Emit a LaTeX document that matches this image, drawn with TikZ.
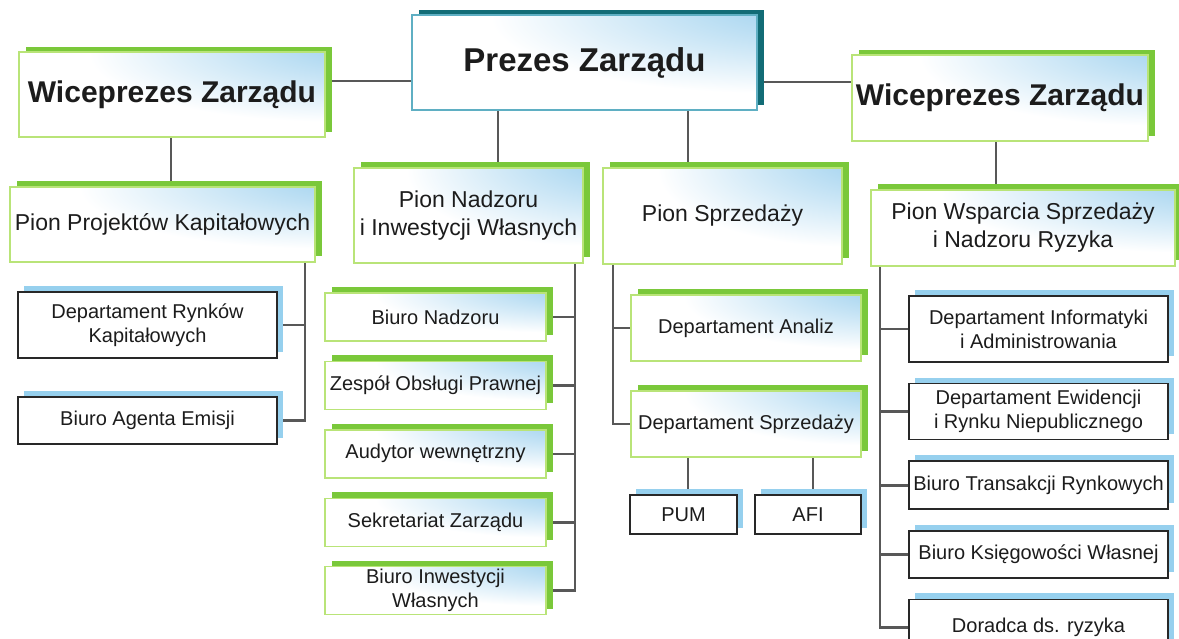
\documentclass[tikz,border=0pt]{standalone}
\usepackage{fontspec}
\setmainfont{Liberation Sans}
\usetikzlibrary{positioning,shadows,backgrounds}
\definecolor{limeshadow}{RGB}{122,200,58}
\definecolor{limeline}{RGB}{185,228,120}
\definecolor{tealshadow}{RGB}{18,108,118}
\definecolor{tealline}{RGB}{95,175,195}
\definecolor{skytint}{RGB}{140,200,235}
\definecolor{skyshadow}{RGB}{150,208,238}
\definecolor{linkgray}{RGB}{88,88,88}
\definecolor{inkdark}{RGB}{40,40,40}
\definecolor{textdark}{RGB}{28,28,28}
\pgfdeclareradialshading{cornertint}{\pgfpoint{44bp}{40bp}}{%
    color(0bp)=(skytint); color(10bp)=(skytint!85!white);
    color(40bp)=(white); color(100bp)=(white)}
\tikzset{
    tinted/.style={
        shading=cornertint,
        align=center,
        inner sep=1pt,
        text=textdark
    },
    topbox/.style={
        tinted,
        draw=tealline,
        line width=1.4pt,
        font=\fontsize{33}{38}\selectfont\bfseries,
        drop shadow={shadow xshift=7pt, shadow yshift=5pt, fill=tealshadow, opacity=1}
    },
    headbox/.style={
        tinted,
        draw=limeline,
        line width=1.4pt,
        font=\fontsize{30}{34}\selectfont\bfseries,
        drop shadow={shadow xshift=7pt, shadow yshift=5pt, fill=limeshadow, opacity=1}
    },
    pionbox/.style={
        tinted,
        draw=limeline,
        line width=1.4pt,
        font=\fontsize{23}{28}\selectfont,
        drop shadow={shadow xshift=7pt, shadow yshift=6pt, fill=limeshadow, opacity=1}
    },
    greenunit/.style={
        tinted,
        draw=limeline,
        line width=1.4pt,
        font=\fontsize{20}{24}\selectfont,
        drop shadow={shadow xshift=7pt, shadow yshift=6pt, fill=limeshadow, opacity=1}
    },
    plainunit/.style={
        draw=inkdark,
        line width=1.6pt,
        fill=white,
        align=center,
        inner sep=1pt,
        text=textdark,
        font=\fontsize{20}{24}\selectfont,
        drop shadow={shadow xshift=6pt, shadow yshift=6pt, fill=skyshadow, opacity=1}
    },
    nadbox/.style={greenunit, minimum width=221pt, minimum height=48pt},
    wspbox/.style={plainunit, minimum width=259pt},
    link/.style={draw=linkgray, line width=2.6pt}
}

\begin{document}
\begin{tikzpicture}[x=1pt, y=-1pt, node distance=19pt]
    \useasboundingbox (0,0) rectangle (1179,638);
    \clip (0,0) rectangle (1179,638);

    % management
    \node[topbox, minimum width=345pt, minimum height=95pt] (prezes) at (584.5,62.5) {Prezes Zarządu};
    \node[headbox, minimum width=306pt, minimum height=85pt] (vleft) at (172,94.5) {Wiceprezes Zarządu};
    \node[headbox, minimum width=296pt, minimum height=86pt] (vright) at (1000,98) {Wiceprezes Zarządu};

    % divisions
    \node[pionbox, minimum width=305pt, minimum height=75pt] (pkap) at (162.5,224.5) {Pion Projektów Kapitałowych};
    \node[pionbox, minimum width=229pt, minimum height=95pt] (pnad) at (468.5,215.5) {Pion Nadzoru\\i Inwestycji Własnych};
    \node[pionbox, minimum width=239pt, minimum height=96pt] (psprz) at (722.5,216) {Pion Sprzedaży};
    \node[pionbox, minimum width=304pt, minimum height=76pt] (pwsp) at (1023,228) {Pion Wsparcia Sprzedaży\\i Nadzoru Ryzyka};

    % capital projects
    \node[plainunit, minimum width=259pt, minimum height=66pt] (dryn) at (147.5,325) {Departament Rynków\\Kapitałowych};
    \node[plainunit, minimum width=259pt, minimum height=47pt] (bagent) at (147.5,420.5) {Biuro Agenta Emisji};

    % supervision
    \node[nadbox] (bnad) at (435.5,317) {Biuro Nadzoru};
    \node[nadbox, below=of bnad] (zesp) {Zespół Obsługi Prawnej};
    \node[nadbox, below=of zesp] (audyt) {Audytor wewnętrzny};
    \node[nadbox, below=of audyt] (sekr) {Sekretariat Zarządu};
    \node[nadbox, below=of sekr] (binw) {Biuro Inwestycji\\Własnych};

    % sales
    \node[greenunit, minimum width=230pt, minimum height=66pt] (dan) at (746,328) {Departament Analiz};
    \node[greenunit, minimum width=230pt, minimum height=66pt] (dsp) at (746,424) {Departament Sprzedaży};
    \node[plainunit, minimum width=107pt, minimum height=39pt] (pum) at (683.5,514.5) {PUM};
    \node[plainunit, minimum width=106pt, minimum height=39pt] (afi) at (808,514.5) {AFI};

    % sales support
    \node[wspbox, minimum height=66pt] (dinf) at (1038.5,329) {Departament Informatyki\\i Administrowania};
    \node[wspbox, minimum height=56pt, below=20pt of dinf] (dew) {Departament Ewidencji\\i Rynku Niepublicznego};
    \node[wspbox, minimum height=48pt, below=20pt of dew] (btr) {Biuro Transakcji Rynkowych};
    \node[wspbox, minimum height=47pt, below=20pt of btr] (bks) {Biuro Księgowości Własnej};
    \node[wspbox, minimum height=56pt, below=20pt of bks] (dor) {Doradca ds. ryzyka};

    \begin{scope}[on background layer]
        \draw[link] (prezes.west |- 0,81) -- (vleft.east |- 0,81);
        \draw[link] (prezes.east |- 0,82) -- (vright.west |- 0,82);
        \draw[link] (vleft.south -| 171,0) -- (pkap.north -| 171,0);
        \draw[link] (prezes.south -| 498,0) -- (pnad.north -| 498,0);
        \draw[link] (prezes.south -| 688,0) -- (psprz.north -| 688,0);
        \draw[link] (vright.south -| 996,0) -- (pwsp.north -| 996,0);

        \draw[link] (pkap.south -| 305,0) |- (dryn.east);
        \draw[link] (pkap.south -| 305,0) |- (bagent.east);

        \draw[link] (pnad.south -| 575,0) |- (bnad.east);
        \draw[link] (pnad.south -| 575,0) |- (zesp.east);
        \draw[link] (pnad.south -| 575,0) |- (audyt.east);
        \draw[link] (pnad.south -| 575,0) |- (sekr.east);
        \draw[link] (pnad.south -| 575,0) |- (binw.east);

        \draw[link] (psprz.south -| 613,0) |- (dan.west);
        \draw[link] (psprz.south -| 613,0) |- (dsp.west);
        \draw[link] (pum.north -| 688,0) -- (dsp.south -| 688,0);
        \draw[link] (afi.north -| 813,0) -- (dsp.south -| 813,0);

        \draw[link] (pwsp.south -| 880,0) |- (dinf.west);
        \draw[link] (pwsp.south -| 880,0) |- (dew.west);
        \draw[link] (pwsp.south -| 880,0) |- (btr.west);
        \draw[link] (pwsp.south -| 880,0) |- (bks.west);
        \draw[link] (pwsp.south -| 880,0) |- (dor.west);
    \end{scope}
\end{tikzpicture}
\end{document}
